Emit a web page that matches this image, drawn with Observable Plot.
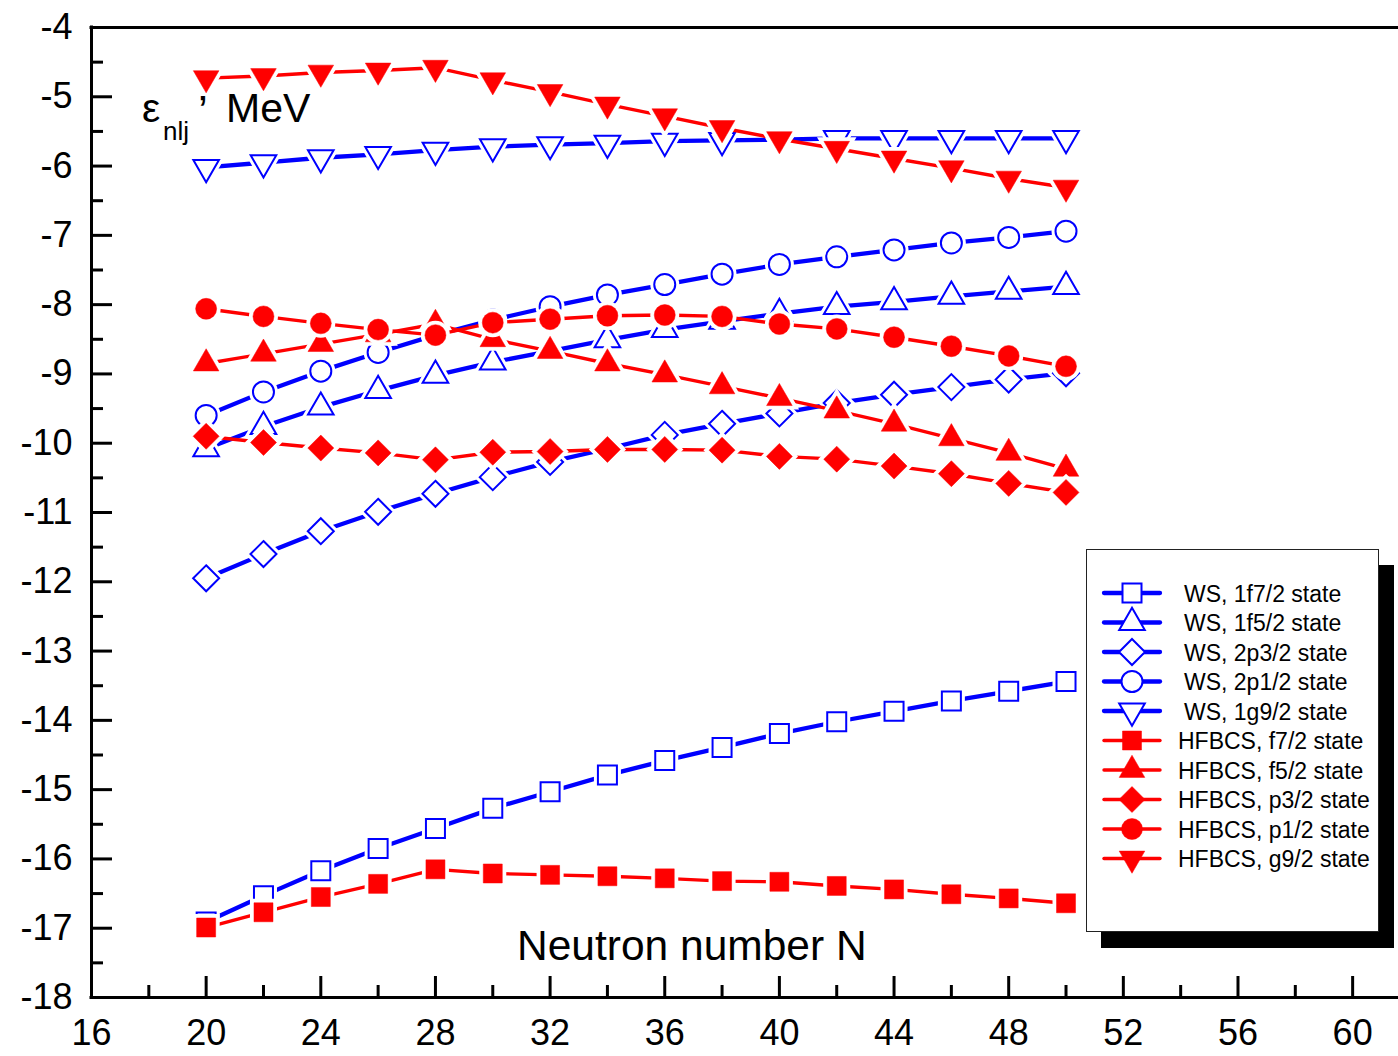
<!DOCTYPE html>
<html><head><meta charset="utf-8">
<script src="https://cdn.jsdelivr.net/npm/d3@7"></script>
<script src="https://cdn.jsdelivr.net/npm/@observablehq/plot@0.6"></script>
<style>
body{margin:0;background:#fff;}
#wrap{position:relative;width:1398px;height:1056px;overflow:hidden;font-family:"Liberation Sans",Arial,sans-serif;}
#legend{position:absolute;left:1086px;top:549px;width:291px;height:381px;border:1px solid #222;background:#fff;box-shadow:15px 16px 0 0 #000;}
#legend svg{display:block;}
</style></head><body><div id="wrap"></div>
<script>
// ---- data ----
const N = [20,22,24,26,28,30,32,34,36,38,40,42,44,46,48,50];
const ws_f72 = [-16.91,-16.53,-16.17,-15.85,-15.56,-15.27,-15.03,-14.79,-14.58,-14.39,-14.19,-14.02,-13.87,-13.72,-13.58,-13.44];
const ws_f52 = [-10.08,-9.76,-9.48,-9.24,-9.02,-8.83,-8.67,-8.51,-8.36,-8.24,-8.13,-8.03,-7.96,-7.88,-7.81,-7.74];
const ws_p32 = [-11.95,-11.60,-11.27,-10.99,-10.73,-10.49,-10.27,-10.08,-9.88,-9.72,-9.57,-9.42,-9.30,-9.19,-9.08,-8.99];
const ws_p12 = [-9.60,-9.26,-8.96,-8.69,-8.44,-8.22,-8.03,-7.86,-7.71,-7.56,-7.42,-7.31,-7.21,-7.11,-7.03,-6.94];
const ws_g92 = [-6.02,-5.95,-5.88,-5.83,-5.77,-5.72,-5.69,-5.67,-5.64,-5.63,-5.62,-5.60,-5.60,-5.60,-5.60,-5.60];
const hf_f72 = [-16.99,-16.77,-16.55,-16.36,-16.15,-16.21,-16.23,-16.25,-16.28,-16.32,-16.33,-16.39,-16.44,-16.51,-16.57,-16.64];
const hf_f52 = [-8.85,-8.71,-8.57,-8.43,-8.28,-8.50,-8.67,-8.85,-9.01,-9.18,-9.35,-9.53,-9.72,-9.93,-10.14,-10.37];
const hf_p32 = [-9.90,-9.99,-10.07,-10.14,-10.24,-10.13,-10.12,-10.09,-10.09,-10.10,-10.19,-10.23,-10.33,-10.44,-10.58,-10.71];
const hf_p12 = [-8.06,-8.17,-8.27,-8.36,-8.44,-8.26,-8.21,-8.16,-8.15,-8.17,-8.28,-8.35,-8.47,-8.60,-8.74,-8.89];
const hf_g92 = [-4.73,-4.70,-4.65,-4.62,-4.58,-4.76,-4.93,-5.11,-5.28,-5.45,-5.61,-5.75,-5.89,-6.03,-6.18,-6.31];

const seriesNames = ["WS, 1f7/2 state","WS, 1f5/2 state","WS, 2p3/2 state","WS, 2p1/2 state","WS, 1g9/2 state",
  "HFBCS, f7/2 state","HFBCS, f5/2 state","HFBCS, p3/2 state","HFBCS, p1/2 state","HFBCS, g9/2 state"];
const seriesValues = [ws_f72, ws_f52, ws_p32, ws_p12, ws_g92, hf_f72, hf_f52, hf_p32, hf_p12, hf_g92];

const xMajor = [16,20,24,28,32,36,40,44,48,52,56,60];
const xMinor = [18,22,26,30,34,38,42,46,50,54,58];
const yMajor = [-18,-17,-16,-15,-14,-13,-12,-11,-10,-9,-8,-7,-6,-5,-4];
const yMinor = [-17.5,-16.5,-15.5,-14.5,-13.5,-12.5,-11.5,-10.5,-9.5,-8.5,-7.5,-6.5,-5.5,-4.5];

// ---- symbols ----
const rad = s => Math.sqrt(s/Math.PI);
const symSquare = {draw(c,s){const r=rad(s); c.rect(-r,-r,2*r,2*r);}};
const symTriUp = {draw(c,s){const r=rad(s), h=r*Math.sqrt(3); c.moveTo(0,-2*h/3); c.lineTo(r,h/3); c.lineTo(-r,h/3); c.closePath();}};
const symTriDown = {draw(c,s){const r=rad(s), h=r*Math.sqrt(3); c.moveTo(0,2*h/3); c.lineTo(r,-h/3); c.lineTo(-r,-h/3); c.closePath();}};
const symDiamond = {draw(c,s){const r=rad(s); c.moveTo(0,-r); c.lineTo(r,0); c.lineTo(0,r); c.lineTo(-r,0); c.closePath();}};
const symCircle = {draw(c,s){const r=rad(s); c.moveTo(r,0); c.arc(0,0,r,0,2*Math.PI);}};
const shapes = [[symSquare,9.5],[symTriUp,12.8],[symDiamond,13],[symCircle,10.5],[symTriDown,12.8]];

const series = seriesNames.map((name,i)=>{
  const ws = i < 5;
  const [symbol, r] = shapes[i%5];
  return {name, values: seriesValues[i], color: ws ? "#0000ff" : "#ff0000", open: ws, symbol, r, lw: ws ? 4.3 : 3.4};
});

const W=1398, H=1056, mL=91, mT=27, mB=59, mR=0;
const pw = W-mL-mR, ph = H-mT-mB;

const marks = [];
for (const s of series) {
  const rows = N.map((n,i)=>({N:n, E:s.values[i]}));
  marks.push(Plot.line(rows, {x:"N", y:"E", stroke:s.color, strokeWidth:s.lw, strokeLinecap:"round"}));
  marks.push(Plot.dot(rows, {x:"N", y:"E", symbol:s.symbol, r:s.r, fill:"white", stroke:"white", strokeWidth:8}));
  marks.push(Plot.dot(rows, {x:"N", y:"E", symbol:s.symbol, r:s.r, fill:s.open?"white":s.color, stroke:s.color, strokeWidth:s.open?2:0.5}));
}

const chart = Plot.plot({
  width: W, height: H,
  marginLeft: mL, marginTop: mT, marginBottom: mB, marginRight: mR,
  style: {fontFamily: '"Liberation Sans", Arial, sans-serif', background: "white", color: "black"},
  x: {domain: [16, 61.6], axis: null},
  y: {domain: [-18, -4], axis: null},
  marks: [
    ...marks,
    Plot.tickX(xMajor, {x: d=>d, insetTop: ph-21, stroke:"black", strokeWidth:3}),
    Plot.tickX(xMinor, {x: d=>d, insetTop: ph-12, stroke:"black", strokeWidth:3}),
    Plot.tickY(yMajor, {y: d=>d, insetRight: pw-21, stroke:"black", strokeWidth:3}),
    Plot.tickY(yMinor, {y: d=>d, insetRight: pw-12, stroke:"black", strokeWidth:3}),
    Plot.ruleX([16], {stroke:"black", strokeWidth:3, strokeLinecap:"square"}),
    Plot.ruleY([-4], {stroke:"black", strokeWidth:3, strokeLinecap:"square"}),
    Plot.ruleY([-18], {stroke:"black", strokeWidth:3, strokeLinecap:"square"}),
    Plot.axisX({ticks: xMajor, tickSize: 0, tickPadding: 22, fontSize: 36, label: null, tickFormat: d=>String(d)}),
    Plot.axisY({ticks: yMajor, tickSize: 0, tickPadding: 19, fontSize: 36, label: null, tickFormat: d=>String(d)})
  ]
});
chart.style.position = "absolute"; chart.style.left = "0"; chart.style.top = "0";
document.getElementById("wrap").appendChild(chart);

// axis titles (inside frame)
const svg = d3.select(chart);
const fam = '"Liberation Sans", Arial, sans-serif';
const yt = svg.append("text").attr("font-family", fam).attr("fill","black").attr("text-anchor","start");
yt.append("tspan").attr("x",142).attr("y",122).attr("font-size",41).text("ε");
yt.append("tspan").attr("x",163).attr("y",140).attr("font-size",26).text("nlj");
yt.append("tspan").attr("x",198).attr("y",127).attr("font-size",44).text("’");
yt.append("tspan").attr("x",226).attr("y",122).attr("font-size",41).text("MeV");
svg.append("text").attr("font-family", fam).attr("font-size",42.5).attr("text-anchor","start")
  .attr("x",517).attr("y",960).attr("fill","black").text("Neutron number N");

// legend
const lg = document.createElement("div"); lg.id = "legend";
document.getElementById("wrap").appendChild(lg);
const ls = d3.select(lg).append("svg").attr("width",291).attr("height",381);
series.forEach((s,i)=>{
  const cy = 43 + i*29.5;
  const g = ls.append("g");
  g.append("line").attr("x1",17).attr("x2",73).attr("y1",cy).attr("y2",cy).attr("stroke",s.color).attr("stroke-width",s.lw).attr("stroke-linecap","round");
  const p = d3.path(); s.symbol.draw(p, s.r*s.r*Math.PI);
  g.append("path").attr("d", p.toString()).attr("transform",`translate(45,${cy})`).attr("fill", s.open?"white":s.color).attr("stroke",s.color).attr("stroke-width", s.open?2:0.5);
  g.append("text").attr("x", s.open?97:91).attr("y", cy+8.5).attr("font-family",fam).attr("font-size",23).attr("fill","black").text(s.name);
});
</script></body></html>
